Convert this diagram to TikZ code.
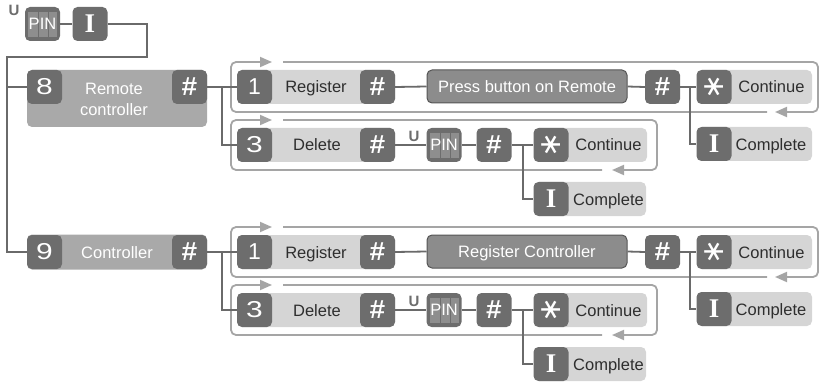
\documentclass[tikz,border=0pt]{standalone}
\usepackage{fontspec}
\setmainfont{Liberation Sans}
\newfontfamily\serifface{Liberation Serif}
\newfontfamily\dvface{DejaVu Sans}
\newfontfamily\monoface{Liberation Mono}
\usetikzlibrary{arrows.meta}
\definecolor{keydk}{HTML}{6D6D6D}
\definecolor{barlt}{HTML}{D5D5D5}
\definecolor{grpmd}{HTML}{A9A9A9}
\definecolor{midfill}{HTML}{8C8C8C}
\definecolor{midline}{HTML}{555555}
\definecolor{wirec}{HTML}{6A6A6A}
\definecolor{loopc}{HTML}{A5A5A5}
\definecolor{stripec}{HTML}{8E8E8E}
\definecolor{txtdk}{HTML}{2E2E2E}
\tikzset{
  key/.style={rectangle, rounded corners=5pt, fill=keydk, minimum width=35pt, minimum height=34pt, inner sep=0pt, text=white},
  digitkey/.style={key, font=\fontsize{23}{23}\selectfont},
  hashkey/.style={key, font=\monoface\bfseries\fontsize{27}{27}\selectfont},
  starkey/.style={key, font=\dvface\fontsize{30}{30}\selectfont},
  ikey/.style={key, font=\serifface\bfseries\fontsize{27}{27}\selectfont},
  pintext/.style={inner sep=0pt, text=white, font=\fontsize{16.5}{16.5}\selectfont},
  bar/.style={rectangle, rounded corners=5pt, fill=barlt, inner sep=0pt, minimum height=34pt},
  grp/.style={rectangle, rounded corners=5pt, fill=grpmd, inner sep=0pt},
  midbox/.style={rectangle, rounded corners=5pt, fill=midfill, draw=midline, line width=1pt, inner sep=0pt, minimum height=33pt, text=white, font=\fontsize{16.5}{20}\selectfont, text height=12pt, text depth=0pt},
  lbl/.style={anchor=base, inner sep=0pt, text=txtdk, font=\fontsize{16.5}{20}\selectfont},
  wlbl/.style={inner sep=0pt, text=white, font=\fontsize{16.5}{21}\selectfont, align=center},
  ulbl/.style={inner sep=0pt, text=keydk, font=\bfseries\fontsize{15}{15}\selectfont},
  wire/.style={draw=wirec, line width=1.8pt},
  loopl/.style={draw=loopc, line width=1.8pt, rounded corners=5pt, -{Triangle[length=12pt,width=10pt]}},
}
\newcommand\hashsym{\#}
\newcommand\starsym{\rotatebox[origin=c]{90}{∗}}
\newcommand\pinkey[2]{% name, position
  \node[key] (#1) at (#2) {};
  \fill[stripec] ([xshift=-14.5pt,yshift=12pt]#1.center) rectangle ([xshift=-4.5pt,yshift=-13pt]#1.center);
  \fill[stripec] ([xshift=-3.5pt,yshift=12pt]#1.center) rectangle ([xshift=5.5pt,yshift=-13pt]#1.center);
  \fill[stripec] ([xshift=6.5pt,yshift=12pt]#1.center) rectangle ([xshift=14.5pt,yshift=-13pt]#1.center);
  \node[pintext] (#1t) at (#1.center) {PIN};
}
\newcommand\rowset[3]{% prefix, middle text, hash node of group
  \draw[loopl] (767,112) -| (231,62) -- (272,62);
  \draw[loopl] (283,62) -| (818,112) -- (775,112);
  \draw[loopl] (602,170) -| (231,120) -- (272,120);
  \draw[loopl] (283,120) -| (657,170) -- (612,170);
  \node[bar, minimum width=158pt] (#1barA) at (316,87) {};
  \node[digitkey] (#1one) at (254.5,87) {1};
  \node[lbl] (#1regt) at (316,93) {Register};
  \node[hashkey] (#1hA1) at (377.5,87) {\hashsym};
  \node[midbox, minimum width=200pt] (#1mid) at (527,86.5) {#2};
  \node[hashkey] (#1hA2) at (662.5,87) {\hashsym};
  \node[bar, minimum width=115pt] (#1cAbar) at (754.5,87) {};
  \node[starkey] (#1sA) at (714,87) {\starsym};
  \node[lbl] (#1cAt) at (771.5,93) {Continue};
  \node[bar, minimum width=115pt] (#1pAbar) at (754.5,144) {};
  \node[ikey] (#1iA) at (714,144) {I};
  \node[lbl] (#1pAt) at (771,150) {Complete};
  \node[bar, minimum width=158pt] (#1barB) at (316,145) {};
  \node[digitkey] (#1three) at (254.5,145) {\scalebox{1.3}[1]{3}};
  \node[lbl] (#1delt) at (317,151) {Delete};
  \node[hashkey] (#1hB1) at (377.5,145) {\hashsym};
  \node[ulbl] (#1u) at (414,136) {U};
  \pinkey{#1pin}{444,145}
  \node[hashkey] (#1hB2) at (494,145) {\hashsym};
  \node[bar, minimum width=113pt] (#1cBbar) at (590.5,145) {};
  \node[starkey] (#1sB) at (551,145) {\starsym};
  \node[lbl] (#1cBt) at (608.5,151) {Continue};
  \node[bar, minimum width=112pt] (#1pBbar) at (590,199) {};
  \node[ikey] (#1iB) at (551,199) {I};
  \node[lbl] (#1pBt) at (608.5,205) {Complete};
  \coordinate (#1j0) at (222,87);
  \coordinate (#1jA) at (690,87);
  \coordinate (#1jB) at (523,145);
  \draw[wire] (#3.east) -- (#1j0) -- (#1one.west);
  \draw[wire] (#1j0) |- (#1three.west);
  \draw[wire] (#1hA1.east) -- (#1mid.west);
  \draw[wire] (#1mid.east) -- (#1hA2.west);
  \draw[wire] (#1hA2.east) -- (#1sA.west);
  \draw[wire] (#1jA) |- (#1iA.west);
  \draw[wire] (#1hB1.east) -- (#1pin.west);
  \draw[wire] (#1pin.east) -- (#1hB2.west);
  \draw[wire] (#1hB2.east) -- (#1sB.west);
  \draw[wire] (#1jB) |- (#1iB.west);
}
\begin{document}
\begin{tikzpicture}[x=1pt,y=-1pt]
\useasboundingbox (0,0) rectangle (825,385);
\node[ulbl] (uTop) at (14,10) {U};
\pinkey{pinTop}{42.5,24}
\node[ikey] (iTop) at (90,24) {I};
\node[grp, minimum width=180pt, minimum height=57pt] (grpR) at (117,98.5) {};
\node[digitkey] (eight) at (44.5,87) {\scalebox{1.3}[1]{8}};
\node[hashkey] (hashR) at (189.5,87) {\hashsym};
\node[wlbl] (grpRt) at (114,99.5) {Remote\\controller};
\node[grp, minimum width=180pt, minimum height=35pt] (grpC) at (117,252) {};
\node[digitkey] (nine) at (44.5,252) {\scalebox{1.3}[1]{9}};
\node[hashkey] (hashC) at (189.5,252) {\hashsym};
\node[wlbl, anchor=base] (grpCt) at (117,258) {Controller};
\coordinate (tr1) at (147,57);
\coordinate (trk) at (7,57);
\draw[wire] (pinTop.east) -- (iTop.west);
\draw[wire] (iTop.east) -| (tr1) -- (trk) |- (nine.west);
\draw[wire] (trk |- eight.west) -- (eight.west);
\rowset{r}{Press button on Remote}{hashR}
\begin{scope}[yshift=-165pt]
\rowset{c}{Register Controller}{hashC}
\end{scope}
\end{tikzpicture}
\end{document}
